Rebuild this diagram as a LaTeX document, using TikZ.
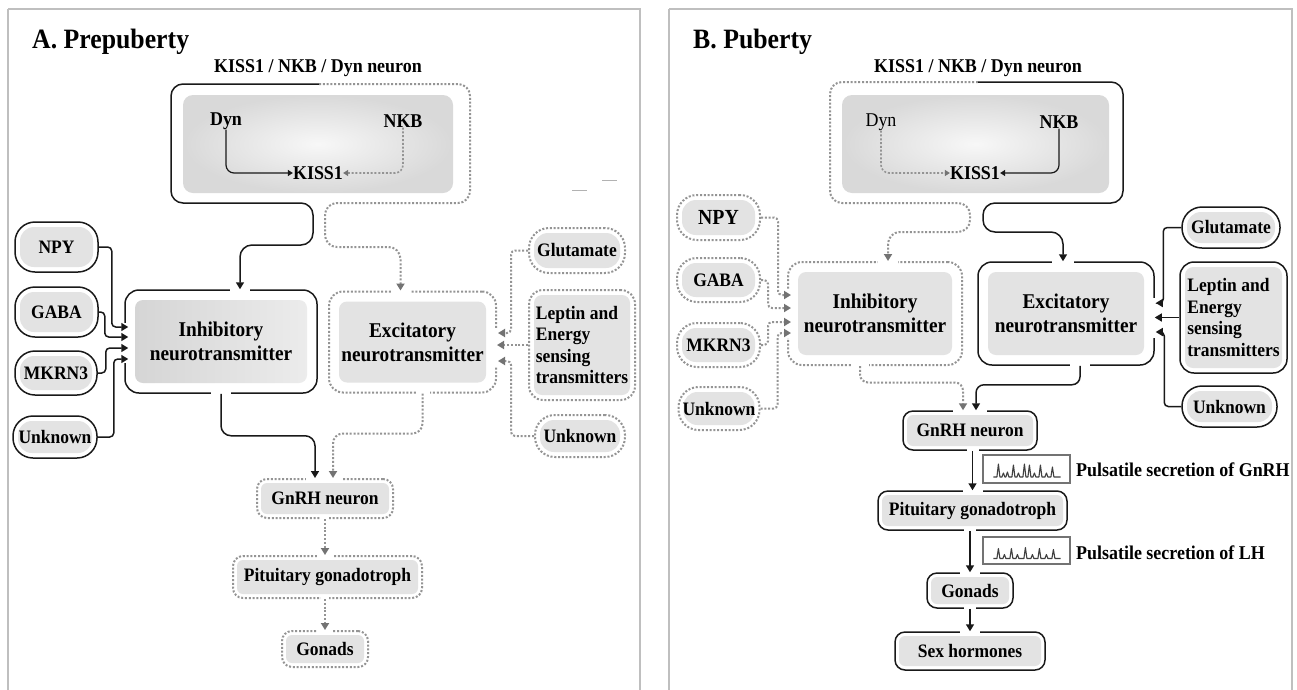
\documentclass[tikz,border=0pt]{standalone}
\usepackage{fontspec}
\setmainfont{Liberation Serif}[FakeStretch=0.92]
\usetikzlibrary{arrows.meta,calc}
\newcommand\fsz[2]{\fontsize{#1}{#2}\selectfont\bfseries}
\tikzset{
  inset/.store in=\boxinset, inset=5,
  inrad/.store in=\boxinrad, inrad=6,
  inner/.style={fill=gray!22},
  boxbase/.style={inner sep=0pt, align=center, font=\fsz{19}{21.5},
    path picture={\path[inner, rounded corners=\boxinrad pt]
      ($(path picture bounding box.south west)+(\boxinset pt,\boxinset pt)$) rectangle
      ($(path picture bounding box.north east)+(-\boxinset pt,-\boxinset pt)$);}},
  sbox/.style={boxbase, draw=black!90, line width=1.5pt, rounded corners=10pt},
  dbox/.style={boxbase, draw=black!42, line width=2pt, dash pattern=on 2pt off 1.8pt, rounded corners=10pt},
  big/.style={inset=10, inrad=8, rounded corners=14pt, font=\fsz{21}{24}},
  pill/.style={inset=5, inrad=14, rounded corners=20pt},
  mid/.style={inset=4, inrad=6, rounded corners=10pt},
  kin/.style={minimum width=#1, minimum height=98, rounded corners=10pt, inner sep=0pt,
    inner color=gray!6, outer color=gray!30},
  lbl/.style={inner sep=0pt, align=center, font=\fsz{19.5}{22}},
  ttl/.style={inner sep=0pt, anchor=west, font=\fsz{28}{30}},
  sl/.style={draw=black!90, line width=1.5pt, rounded corners=8pt},
  dl/.style={draw=black!42, line width=2pt, dash pattern=on 2pt off 1.8pt, rounded corners=8pt},
  sarr/.style={sl, -{Triangle[length=7pt,width=8pt]}},
  darr/.style={dl, -{Triangle[length=7pt,width=8pt,fill=black!55,color=black!55]}},
  sarrs/.style={sl, line width=1.2pt, -{Triangle[length=5pt,width=6pt]}},
  darrs/.style={dl, line width=1.6pt, -{Triangle[length=5pt,width=6pt,fill=black!55,color=black!55]}},
  gap/.style={fill=white, inner sep=0pt, minimum height=5pt, minimum width=5pt},
  frame/.style={draw=black!25, line width=1.5pt},
  pulse/.style={draw=black!55, line width=1.2pt, inner sep=0pt},
  wave/.style={draw=black!75, line width=1.1pt, line join=round},
}
\begin{document}
\begin{tikzpicture}[x=1pt,y=-1pt]
\useasboundingbox (0,0) rectangle (1297,689);
\fill[white] (0,0) rectangle (1297,689);
\draw[frame] (8,9) -- (8,700) (8,9) -- (640,9) -- (640,700);
\draw[frame] (669,9) -- (669,700) (669,9) -- (1292,9) -- (1292,700);

% ================= A. Prepuberty =================
\node[ttl] (tA) at (32,42) {A. Prepuberty};
\node[lbl] (hA) at (318,68) {KISS1 / NKB / Dyn neuron};
\node[kin=270] (kA) at (318,144) {};
\node[lbl] (dynA) at (226,121) {Dyn};
\node[lbl] (nkbA) at (403,121) {NKB};
\node[lbl] (kissA) at (318,173) {KISS1};

\node[sbox, big, minimum width=192, minimum height=103,
  inner/.style={left color=gray!34, right color=gray!14}] (inhA) at (221,341.5) {Inhibitory\\neurotransmitter};
\node[dbox, big, minimum width=167, minimum height=101] (excA) at (412.5,342) {Excitatory\\neurotransmitter};

\node[sbox, pill, minimum width=83, minimum height=50] (npyA) at (56.5,247) {NPY};
\node[sbox, pill, minimum width=83, minimum height=50] (gabaA) at (56.5,312) {GABA};
\node[sbox, pill, minimum width=82, minimum height=44] (mkrnA) at (56,373) {MKRN3};
\node[sbox, pill, minimum width=84, minimum height=42] (unkA) at (55,437) {Unknown};

\node[dbox, pill, minimum width=96, minimum height=45] (glutA) at (577,250.5) {Glutamate};
\node[dbox, inset=5, inrad=8, rounded corners=14pt, align=left, minimum width=106, minimum height=110] (leptA) at (582,345) {Leptin and\\Energy\\sensing\\transmitters};
\node[dbox, pill, minimum width=90, minimum height=42] (unkA2) at (580,436) {Unknown};

\node[dbox, mid, minimum width=136, minimum height=39] (gnrhA) at (325,498.5) {GnRH neuron};
\node[dbox, mid, minimum width=189, minimum height=42] (pitA) at (327.5,577) {Pituitary gonadotroph};
\node[dbox, mid, minimum width=86, minimum height=36] (gonA) at (325,649) {Gonads};

% gaps in the outer borders
\node[gap, minimum width=20] at ($(inhA.north)+(19,0)$) {};
\node[gap, minimum height=40] at ($(inhA.west)+(0,1)$) {};
\node[gap, minimum width=20] at (inhA.south) {};
\node[gap, minimum width=18] at ($(excA.north)+(-12,0)$) {};
\node[gap, minimum height=38] at ($(excA.east)+(0,5)$) {};
\node[gap, minimum width=14] at ($(excA.south)+(10,0)$) {};
\node[gap, minimum width=36] at ($(gnrhA.north)+(-1,0)$) {};
\node[gap, minimum width=8] at (gnrhA.south) {};
\node[gap, minimum width=16] at (pitA.north -| gnrhA.south) {};
\node[gap, minimum width=8] at (pitA.south -| gonA.north) {};
\node[gap, minimum width=16] at (gonA.north) {};

% connectors
\draw[sarrs] (dynA.south) |- (kissA.west);
\draw[darrs] (nkbA.south) |- (kissA.east);
\draw[sarr, rounded corners=12pt] (319,84) -- (171,84) -- (171,203) -- (313,203) -- (313,245) -| ($(inhA.north)+(19,0)$);
\draw[darr, rounded corners=12pt] (319,84) -- (470,84) -- (470,203) -- (325,203) -- (325,247) -| ($(excA.north)+(-12,0)$);

\draw[sarr, rounded corners=4pt] (npyA.east) -- ++(13,0) |- ($(inhA.west)+(4,-14.5)$);
\draw[sarr, rounded corners=4pt] (gabaA.east) -- ++(6,0) |- ($(inhA.west)+(4,-4.5)$);
\draw[sarr, rounded corners=4pt] (mkrnA.east) -- ++(8,0) |- ($(inhA.west)+(4,6.5)$);
\draw[sarr, rounded corners=4pt] (unkA.east) -- ++(16,0) |- ($(inhA.west)+(4,17.5)$);

\draw[darr, rounded corners=4pt] (glutA.west) -- ++(-17,0) |- ($(excA.east)+(1,-9)$);
\draw[darr] (leptA.west) -- (leptA.west -| excA.east);
\draw[darr, rounded corners=4pt] (unkA2.west) -- ++(-23,0) |- ($(excA.east)+(1,19)$);

\draw[sarr, rounded corners=10pt] (inhA.south) -- ++(0,42) -| ($(gnrhA.north)+(-10,0)$);
\draw[darr, rounded corners=10pt] ($(excA.south)+(10,0)$) -- ++(0,40) -| ($(gnrhA.north)+(8,0)$);
\draw[darr] (gnrhA.south) -- (gnrhA.south |- pitA.north);
\draw[darr] (pitA.south -| gonA.north) -- (gonA.north);

\draw[black!30, line width=1pt] (602,180) -- (617,180) (572,190) -- (587,190);

% ================= B. Puberty =================
\node[ttl] (tB) at (693,42) {B. Puberty};
\node[lbl] (hB) at (978,68) {KISS1 / NKB / Dyn neuron};
\node[kin=267] (kB) at (975.5,144) {};
\node[lbl, font=\fsz{19.5}{22}\mdseries] (dynB) at (881,122) {Dyn};
\node[lbl] (nkbB) at (1059,122) {NKB};
\node[lbl] (kissB) at (975,173) {KISS1};

\node[dbox, big, minimum width=174, minimum height=103] (inhB) at (875,313.5) {Inhibitory\\neurotransmitter};
\node[sbox, big, minimum width=176, minimum height=103] (excB) at (1066,313.5) {Excitatory\\neurotransmitter};

\node[dbox, pill, minimum width=83, minimum height=45, font=\fsz{21.5}{24}] (npyB) at (718.5,217.5) {NPY};
\node[dbox, pill, minimum width=83, minimum height=44] (gabaB) at (718.5,280) {GABA};
\node[dbox, pill, minimum width=83, minimum height=44] (mkrnB) at (718.5,345) {MKRN3};
\node[dbox, pill, minimum width=81, minimum height=43] (unkB) at (719,408.5) {Unknown};

\node[sbox, pill, minimum width=98, minimum height=41] (glutB) at (1231,227.5) {Glutamate};
\node[sbox, inset=5, inrad=8, rounded corners=14pt, align=left, minimum width=107, minimum height=111] (leptB) at (1233.5,317.5) {Leptin and\\Energy\\sensing\\transmitters};
\node[sbox, pill, minimum width=95, minimum height=41] (unkB2) at (1229.5,406.5) {Unknown};

\node[sbox, mid, minimum width=134, minimum height=39] (gnrhB) at (970,430.5) {GnRH neuron};
\node[sbox, mid, minimum width=189, minimum height=39] (pitB) at (972.5,510.5) {Pituitary gonadotroph};
\node[sbox, mid, minimum width=86, minimum height=35] (gonB) at (970,590.5) {Gonads};
\node[sbox, mid, minimum width=150, minimum height=38] (sexB) at (970,651) {Sex hormones};

\node[pulse, minimum width=87, minimum height=28] (p1) at (1026.5,469) {};
\node[pulse, minimum width=87, minimum height=27] (p2) at (1026.5,550.5) {};
\node[lbl, anchor=west] (l1) at (1076,470) {Pulsatile secretion of GnRH};
\node[lbl, anchor=west] (l2) at (1076,553) {Pulsatile secretion of LH};

\draw[wave] ($(p1.west)+(11,8)$)
  \foreach \dx/\h in {16/13,21/4,25/5,31/12,36/4,42/13,47/12,52/4,58/12,64/4,70/10}
  { -- ($(p1.west)+(\dx-1.5,8)$) -- ($(p1.west)+(\dx,8-\h)$) -- ($(p1.west)+(\dx+1.5,8)$) }
  -- ($(p1.east)+(-10,8)$);
\draw[wave] ($(p2.west)+(11,8)$)
  \foreach \dx/\h in {16/10,22/4,29/10,35/4,43/11,50/4,57/10,64/4,71/9}
  { -- ($(p2.west)+(\dx-1.5,8)$) -- ($(p2.west)+(\dx,8-\h)$) -- ($(p2.west)+(\dx+1.5,8)$) }
  -- ($(p2.east)+(-10,8)$);

% gaps
\node[gap, minimum width=20] at ($(inhB.north)+(13,0)$) {};
\node[gap, minimum height=48] at ($(inhB.west)+(0,0.5)$) {};
\node[gap, minimum width=18] at ($(inhB.south)+(-15,0)$) {};
\node[gap, minimum width=22] at ($(excB.north)+(-3,0)$) {};
\node[gap, minimum height=40] at ($(excB.east)+(0,4)$) {};
\node[gap, minimum width=20] at ($(excB.south)+(14,0)$) {};
\node[gap, minimum width=34] at (gnrhB.north) {};
\node[gap, minimum width=12] at (pitB.north |- gnrhB.south) {};
\node[gap, minimum width=20] at (pitB.north) {};
\node[gap, minimum width=12] at (gonB.north |- pitB.south) {};
\node[gap, minimum width=20] at (gonB.north) {};
\node[gap, minimum width=12] at (gonB.south) {};
\node[gap, minimum width=20] at (sexB.north) {};

% connectors
\draw[darrs] (dynB.south) |- (kissB.west);
\draw[sarrs] (nkbB.south) |- (kissB.east);
\draw[darr, rounded corners=12pt] (978,82) -- (830,82) -- (830,203) -- (970,203) -- (970,232) -| ($(inhB.north)+(13,0)$);
\draw[sarr, rounded corners=12pt] (978,82) -- (1123,82) -- (1123,203) -- (983,203) -- (983,232) -| ($(excB.north)+(-3,0)$);

\draw[darr, rounded corners=4pt] (npyB.east) -- ++(17,0) |- ($(inhB.west)+(4,-18.5)$);
\draw[darr, rounded corners=4pt] (gabaB.east) -- ++(7,0) |- ($(inhB.west)+(4,-5.5)$);
\draw[darr, rounded corners=4pt] (mkrnB.east) -- ++(7,0) |- ($(inhB.west)+(4,8.5)$);
\draw[darr, rounded corners=4pt] (unkB.east) -- ++(17,0) |- ($(inhB.west)+(4,19.5)$);

\draw[sarr, rounded corners=4pt] (glutB.west) -- ++(-18,0) |- ($(excB.east)+(1,-10.5)$);
\draw[sarr] (leptB.west) -- (leptB.west -| excB.east);
\draw[sarr, rounded corners=4pt] (unkB2.west) -- ++(-17,0) |- ($(excB.east)+(1,18.5)$);

\draw[darr, rounded corners=8pt] ($(inhB.south)+(-15,0)$) -- ++(0,16.5) -| ($(gnrhB.north)+(-7,0)$);
\draw[sarr, rounded corners=8pt] ($(excB.south)+(14,0)$) -- ++(0,19) -| ($(gnrhB.north)+(6,0)$);
\draw[sarr] (pitB.north |- gnrhB.south) -- (pitB.north);
\draw[sarr] (gonB.north |- pitB.south) -- (gonB.north);
\draw[sarr] (gonB.south) -- (sexB.north);
\end{tikzpicture}
\end{document}
